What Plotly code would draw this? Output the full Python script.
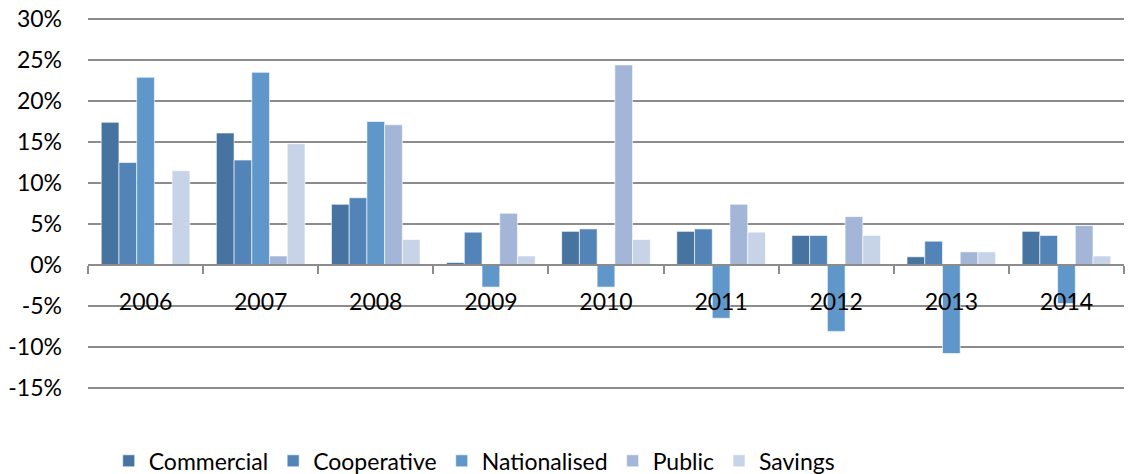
import plotly.graph_objects as go

years = ["2006", "2007", "2008", "2009", "2010", "2011", "2012", "2013", "2014"]
commercial = [17.4, 16.1, 7.4, 0.3, 4.1, 4.1, 3.6, 1.0, 4.1]
cooperative = [12.5, 12.8, 8.2, 4.0, 4.4, 4.4, 3.6, 2.9, 3.6]
nationalised = [22.9, 23.5, 17.5, -2.7, -2.7, -6.5, -8.1, -10.8, -4.7]
public = [0.0, 1.1, 17.1, 6.3, 24.4, 7.4, 5.9, 1.6, 4.8]
savings = [11.5, 14.8, 3.1, 1.1, 3.1, 4.0, 3.6, 1.6, 1.1]

series_names = ["Commercial", "Cooperative", "Nationalised", "Public", "Savings"]
series_values = [commercial, cooperative, nationalised, public, savings]
colors = ["#4673a0", "#5384b8", "#6097cb", "#a3b6d8", "#c7d3e6"]

y_ticks = [-15, -10, -5, 0, 5, 10, 15, 20, 25, 30]
y_tick_labels = [f"{v}%" for v in y_ticks]

fig = go.Figure()
for name, vals, col in zip(series_names, series_values, colors):
    fig.add_trace(go.Bar(
        x=years, y=vals, name=name,
        marker=dict(color=col, line=dict(color="rgba(255,255,255,0.6)", width=1)),
    ))

pad = 0.25
y_lo, y_hi = -15 - pad, 30 + pad

font_family = "Lato, 'Open Sans', sans-serif"
fig.update_layout(
    width=1138, height=474,
    margin=dict(l=88, r=14, t=17, b=84, autoexpand=False),
    paper_bgcolor="white", plot_bgcolor="white",
    barmode="group", bargap=0.23, bargroupgap=0,
    font=dict(family=font_family, size=23, color="#000000"),
    showlegend=True,
    legend=dict(orientation="h", x=0.02, xanchor="left", y=-0.19, yanchor="middle",
                font=dict(size=23), traceorder="normal",
                itemwidth=30, tracegroupgap=0),
    xaxis=dict(
        type="category", anchor="free", position=(0 - y_lo) / (y_hi - y_lo),
        showline=True, linecolor="#8c8c8c", linewidth=1.5,
        ticks="outside", tickson="boundaries", ticklen=8, tickcolor="#8c8c8c", tickwidth=1.5,
        showgrid=False, tickfont=dict(size=23), ticklabelstandoff=17,
    ),
    yaxis=dict(
        range=[y_lo, y_hi], tickvals=y_ticks, ticktext=y_tick_labels,
        showgrid=True, gridcolor="#8c8c8c", gridwidth=1.5,
        zeroline=False, showline=False, ticks="", ticklabelstandoff=25,
        tickfont=dict(size=23),
    ),
)

fig.write_html("out.html", config={"displayModeBar": False},
               post_script="document.body.style.margin='0';")
